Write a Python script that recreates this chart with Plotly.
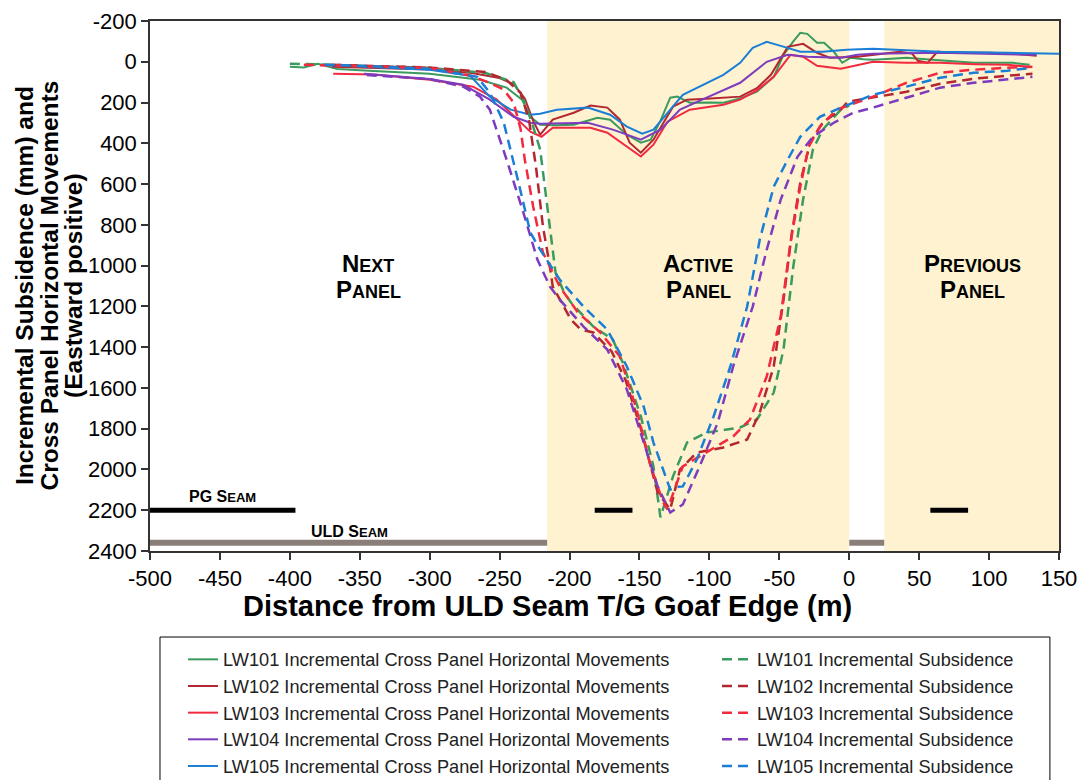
import plotly.graph_objects as go

# ---------------- data ----------------
x_ticks = [-500, -450, -400, -350, -300, -250, -200, -150, -100, -50, 0, 50, 100, 150]
x_tick_text = ["-500", "-450", "-400", "-350", "-300", "-250", "-200", "-150", "-100", "-50", "0", "50", "100", "150"]
y_ticks = [-200, 0, 200, 400, 600, 800, 1000, 1200, 1400, 1600, 1800, 2000, 2200, 2400]
y_tick_text = ["-200", "0", "200", "400", "600", "800", "1000", "1200", "1400", "1600", "1800", "2000", "2200", "2400"]

panels = ["LW101", "LW102", "LW103", "LW104", "LW105"]
panel_colors = ["#3b9a5d", "#b3272f", "#f22a3f", "#7d3bbd", "#1a7ed6"]

# Incremental cross panel horizontal movements (solid)
h101_x = [-400, -390, -380, -366, -340, -300, -264, -245, -234, -228, -221, -210, -197, -180, -171, -159, -149, -142, -135, -128, -123, -114, -100, -90, -78, -66, -54, -47, -40, -35, -30, -23, -18, -11, -5, 1, 10, 17, 30, 41, 50, 60, 75, 89, 100, 117, 129]
h101_y = [25, 28, 10, 35, 45, 59, 88, 127, 186, 270, 309, 312, 309, 275, 284, 358, 397, 382, 290, 176, 171, 201, 200, 201, 180, 147, 74, -34, -100, -142, -137, -93, -93, -49, 5, -20, -12, -10, -15, -20, -15, -10, 0, 5, 5, 5, 15]

h102_x = [-370, -340, -300, -270, -250, -240, -232, -226, -221, -212, -197, -185, -173, -164, -157, -149, -140, -126, -116, -102, -78, -66, -56, -44, -33, -23, -14, 6, 20, 36, 45, 49, 56, 63, 80, 101, 120, 134]
h102_y = [25, 30, 38, 55, 80, 110, 180, 290, 358, 284, 250, 215, 225, 284, 397, 446, 382, 220, 186, 181, 171, 130, 64, -73, -88, -44, -20, -25, -35, -49, -40, -5, 5, -49, -45, -44, -38, -29]

h103_x = [-369, -340, -300, -269, -252, -235, -228, -220, -212, -192, -185, -173, -160, -149, -140, -130, -114, -90, -78, -66, -54, -42, -33, -23, -6, 6, 17, 40, 65, 90, 113, 129]
h103_y = [59, 62, 88, 122, 186, 299, 343, 368, 324, 324, 324, 348, 410, 465, 407, 294, 235, 211, 186, 140, 74, -34, -25, 20, 34, 15, 0, 5, 5, 12, 15, 25]

h104_x = [-347, -300, -276, -257, -240, -228, -221, -187, -169, -149, -135, -121, -102, -78, -59, -44, -30, -6, 6, 17, 65, 134]
h104_y = [59, 85, 113, 186, 270, 299, 304, 299, 333, 382, 333, 235, 176, 103, 0, -34, -25, -20, -34, -39, -44, -34]

h105_x = [-378, -340, -300, -271, -257, -242, -228, -221, -209, -187, -171, -159, -148, -140, -119, -90, -78, -69, -59, -49, -35, -19, -2, 17, 65, 113, 150]
h105_y = [15, 25, 39, 69, 171, 235, 260, 255, 235, 225, 260, 318, 353, 333, 162, 64, 5, -68, -98, -78, -49, -49, -59, -64, -49, -44, -39]

# Incremental subsidence (dashed)
s101_x = [-400, -380, -350, -300, -260, -240, -232, -226, -221, -216, -210, -204, -199, -183, -169, -162, -149, -140, -135, -126, -116, -102, -78, -66, -54, -47, -40, -33, -26, -19, -6, 0]
s101_y = [10, 12, 20, 30, 55, 100, 200, 318, 431, 700, 1034, 1130, 1181, 1299, 1363, 1475, 1740, 1985, 2235, 2034, 1868, 1819, 1794, 1755, 1623, 1412, 1005, 676, 431, 333, 235, 215]

s102_x = [-370, -340, -300, -260, -245, -235, -229, -224, -219, -214, -212, -199, -192, -183, -170, -160, -149, -137, -130, -128, -121, -109, -90, -73, -64, -54, -47, -41, -35, -28, -19, -6, -1, 17, 41, 65, 89, 113, 131]
s102_y = [15, 20, 28, 50, 90, 152, 284, 515, 809, 1005, 1103, 1265, 1314, 1328, 1420, 1560, 1800, 2113, 2181, 2196, 2000, 1917, 1892, 1853, 1721, 1495, 1167, 838, 593, 397, 299, 235, 196, 176, 147, 108, 83, 69, 59]

s103_x = [-390, -360, -300, -270, -257, -247, -240, -235, -232, -226, -219, -207, -194, -178, -164, -152, -142, -133, -130, -119, -102, -83, -71, -59, -49, -42, -35, -29, -21, -9, 17, 41, 65, 89, 113, 131]
s103_y = [15, 20, 30, 70, 103, 137, 200, 330, 480, 711, 936, 1103, 1230, 1328, 1446, 1706, 1985, 2162, 2196, 1985, 1917, 1838, 1755, 1544, 1250, 887, 613, 417, 318, 235, 171, 103, 54, 39, 29, 25]

s104_x = [-345, -300, -276, -264, -257, -245, -233, -223, -214, -207, -190, -173, -159, -147, -137, -128, -119, -107, -94, -83, -69, -59, -49, -37, -26, -11, 3, 17, 41, 65, 89, 113, 131]
s104_y = [65, 85, 122, 171, 235, 480, 740, 970, 1103, 1167, 1299, 1412, 1608, 1868, 2083, 2211, 2172, 1985, 1770, 1495, 1201, 922, 676, 466, 368, 299, 250, 225, 176, 127, 103, 88, 74]

s105_x = [-375, -340, -300, -266, -257, -247, -237, -228, -221, -207, -190, -173, -159, -147, -140, -128, -122, -119, -109, -97, -85, -73, -64, -54, -44, -35, -21, -6, 17, 41, 65, 89, 113, 131]
s105_y = [15, 22, 35, 74, 152, 299, 578, 838, 922, 1069, 1201, 1314, 1495, 1691, 1868, 2098, 2085, 2083, 1951, 1740, 1495, 1201, 873, 613, 480, 368, 270, 225, 162, 122, 78, 54, 44, 29]

h_x = [h101_x, h102_x, h103_x, h104_x, h105_x]
h_y = [h101_y, h102_y, h103_y, h104_y, h105_y]
s_x = [s101_x, s102_x, s103_x, s104_x, s105_x]
s_y = [s101_y, s102_y, s103_y, s104_y, s105_y]

# Seams and panel extents
pg_seam_x = [-500, -396]
pg_seam_y = [2200, 2200]
pg_pillar1_x = [-182, -155]
pg_pillar2_x = [58, 85]
uld_seam1_x = [-500, -216]
uld_seam2_x = [0, 25]
uld_seam_y = [2360, 2360]
active_panel = [-216, 0]
previous_panel = [25, 150]

FONT = "Liberation Sans, Arial, sans-serif"

fig = go.Figure()

# seam bars
for xs in [pg_seam_x, pg_pillar1_x, pg_pillar2_x]:
    fig.add_trace(go.Scatter(x=xs, y=pg_seam_y, mode="lines", line=dict(color="black", width=5),
                             showlegend=False, hoverinfo="skip"))
for xs in [uld_seam1_x, uld_seam2_x]:
    fig.add_trace(go.Scatter(x=xs, y=uld_seam_y, mode="lines", line=dict(color="#8a7f78", width=6),
                             showlegend=False, hoverinfo="skip"))

for name, xs, ys, col in zip(panels, h_x, h_y, panel_colors):
    fig.add_trace(go.Scatter(x=xs, y=ys, mode="lines", line=dict(color=col, width=2),
                             name=f"{name} Incremental Cross Panel Horizontal Movements", legend="legend"))
for name, xs, ys, col in zip(panels, s_x, s_y, panel_colors):
    fig.add_trace(go.Scatter(x=xs, y=ys, mode="lines", line=dict(color=col, width=2.5, dash="10px,6px"),
                             name=f"{name} Incremental Subsidence", legend="legend2"))

shapes = []
for x0, x1 in [active_panel, previous_panel]:
    shapes.append(dict(type="rect", xref="x", yref="paper", x0=x0, x1=x1, y0=0, y1=1,
                       fillcolor="#fef2d0", line=dict(width=0), layer="below"))
# legend frame
shapes.append(dict(type="rect", xref="paper", yref="paper", x0=0.011, x1=0.990, y0=-0.47, y1=-0.1623,
                   line=dict(color="black", width=1), fillcolor="rgba(0,0,0,0)"))

def sc(big, small, ss):
    return f"<b>{big}<span style='font-size:{ss}px'>{small}</span></b>"

ann = []
def panel_label(x, y, text):
    ann.append(dict(x=x, y=y, xref="x", yref="y", text=text, showarrow=False,
                    font=dict(family=FONT, size=24, color="black"), xanchor="center", yanchor="middle"))

panel_label(-344, 990, sc("N", "EXT", 18))
panel_label(-344, 1118, sc("P", "ANEL", 18))
panel_label(-108, 990, sc("A", "CTIVE", 18))
panel_label(-108, 1118, sc("P", "ANEL", 18))
panel_label(88, 990, sc("P", "REVIOUS", 18))
panel_label(88, 1118, sc("P", "ANEL", 18))

ann.append(dict(x=-448, y=2132, xref="x", yref="y", showarrow=False, xanchor="center", yanchor="middle",
                text="<b>PG S<span style='font-size:13px'>EAM</span></b>", font=dict(family=FONT, size=16, color="black")))
ann.append(dict(x=-357, y=2304, xref="x", yref="y", showarrow=False, xanchor="center", yanchor="middle",
                text="<b>ULD S<span style='font-size:13px'>EAM</span></b>", font=dict(family=FONT, size=16, color="black")))

# axis titles
ytitle_lines = ["Incremental Subsidence (mm) and", "Cross Panel Horizontal Movements", "(Eastward positive)"]
for i, line in enumerate(ytitle_lines):
    px = 24 + i * 24.5
    ann.append(dict(x=(px - 150) / 909, y=(551 - 286) / 530, xref="paper", yref="paper", text=f"<b>{line}</b>",
                    textangle=-90, showarrow=False, xanchor="center", yanchor="middle",
                    font=dict(family=FONT, size=24.5, color="black")))
ann.append(dict(x=(547 - 150) / 909, y=(551 - 606) / 530, xref="paper", yref="paper",
                text="<b>Distance from ULD Seam T/G Goaf Edge (m)</b>", showarrow=False,
                xanchor="center", yanchor="middle", font=dict(family=FONT, size=29, color="black")))

axis_common = dict(showgrid=False, zeroline=False, showline=True, linecolor="#333", linewidth=1.5,
                   mirror=True, ticks="outside", ticklen=7, tickwidth=1.5, tickcolor="#333",
                   tickfont=dict(family=FONT, size=22, color="black"))

fig.update_layout(
    width=1081, height=780,
    margin=dict(l=150, r=22, t=21, b=229, autoexpand=False),
    paper_bgcolor="white", plot_bgcolor="white",
    xaxis=dict(range=[-500, 150], tickvals=x_ticks, ticktext=x_tick_text, **axis_common),
    yaxis=dict(range=[2400, -200], tickvals=y_ticks, ticktext=y_tick_text, **axis_common),
    shapes=shapes, annotations=ann,
    legend=dict(x=(183 - 150) / 909, y=(551 - 641) / 530, xanchor="left", yanchor="top",
                bgcolor="rgba(0,0,0,0)", font=dict(family=FONT, size=18.2, color="#222"),
                tracegroupgap=0),
    legend2=dict(x=(717 - 150) / 909, y=(551 - 641) / 530, xanchor="left", yanchor="top",
                 bgcolor="rgba(0,0,0,0)", font=dict(family=FONT, size=18.2, color="#222"),
                 tracegroupgap=0),
    showlegend=True,
)

fig.write_html("out.html")
